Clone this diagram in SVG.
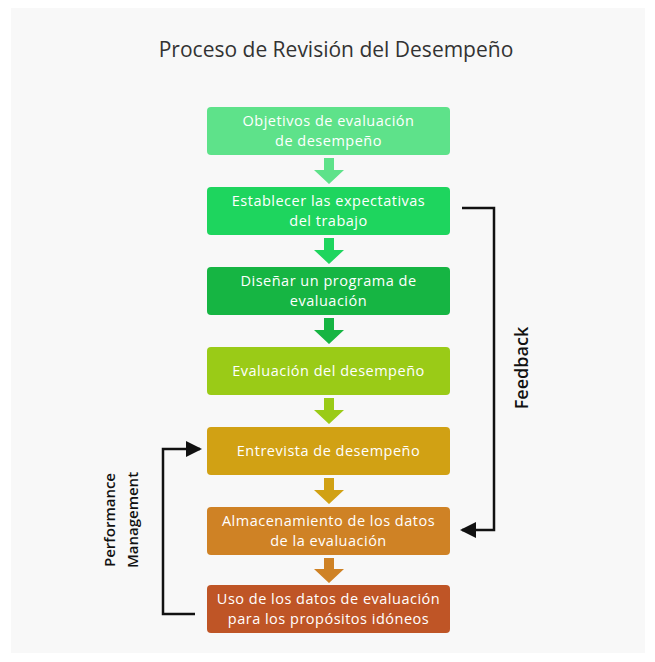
<svg xmlns="http://www.w3.org/2000/svg" width="655" height="662" viewBox="0 0 655 662">
<defs>
<style>
.box{stroke:none}
.lbl{font-family:"Open Sans","Noto Sans",sans-serif;font-size:14.5px;letter-spacing:0.5px;fill:#ffffff;text-anchor:middle;font-weight:500}
.side{font-family:"Open Sans","Noto Sans",sans-serif;fill:#111111;text-anchor:middle;font-weight:600}
.fb{font-size:18px}
.pm{font-size:15px}
.title{font-family:"Open Sans","Noto Sans",sans-serif;font-size:21px;fill:#333333;text-anchor:middle}
.conn{fill:none;stroke:#111111;stroke-width:2.5}
</style>
<marker id="ah2" markerWidth="16" markerHeight="16" refX="14" refY="8" orient="auto" markerUnits="userSpaceOnUse" viewBox="0 0 16 16">
<path d="M0,0 L16,8 L0,16 Z" fill="#111111"/>
</marker>
</defs>
<rect x="0" y="0" width="655" height="662" fill="#ffffff"/>
<rect x="11" y="8" width="634" height="645" fill="#f8f8f8"/>
<text class="title" x="336" y="57">Proceso de Revisión del Desempeño</text>

<g id="n1"><rect class="box" x="207" y="107" width="243" height="48" rx="4" fill="#5ee28a"/>
<text class="lbl" x="328.5" y="126">Objetivos de evaluación</text><text class="lbl" x="328.5" y="146">de desempeño</text></g>
<g id="n2"><rect class="box" x="207" y="187" width="243" height="48" rx="4" fill="#1ed55e"/>
<text class="lbl" x="328.5" y="206">Establecer las expectativas</text><text class="lbl" x="328.5" y="226">del trabajo</text></g>
<g id="n3"><rect class="box" x="207" y="267" width="243" height="48" rx="4" fill="#16b543"/>
<text class="lbl" x="328.5" y="286">Diseñar un programa de</text><text class="lbl" x="328.5" y="306">evaluación</text></g>
<g id="n4"><rect class="box" x="207" y="347" width="243" height="48" rx="4" fill="#9acb17"/>
<text class="lbl" x="328.5" y="376">Evaluación del desempeño</text></g>
<g id="n5"><rect class="box" x="207" y="427" width="243" height="48" rx="4" fill="#d1a114"/>
<text class="lbl" x="328.5" y="456">Entrevista de desempeño</text></g>
<g id="n6"><rect class="box" x="207" y="507" width="243" height="48" rx="4" fill="#cf8225"/>
<text class="lbl" x="328.5" y="526">Almacenamiento de los datos</text><text class="lbl" x="328.5" y="546">de la evaluación</text></g>
<g id="n7"><rect class="box" x="207" y="585" width="243" height="48" rx="4" fill="#bf5526"/>
<text class="lbl" x="328.5" y="604">Uso de los datos de evaluación</text><text class="lbl" x="328.5" y="624">para los propósitos idóneos</text></g>

<g id="connectors">
<path d="M324,158 h10 v12 h10 l-15,14 l-15,-14 h10 z" fill="#5ee28a"/>
<path d="M324,238 h10 v12 h10 l-15,14 l-15,-14 h10 z" fill="#1ed55e"/>
<path d="M324,318 h10 v12 h10 l-15,14 l-15,-14 h10 z" fill="#16b543"/>
<path d="M324,398 h10 v12 h10 l-15,14 l-15,-14 h10 z" fill="#9acb17"/>
<path d="M324,478 h10 v12 h10 l-15,14 l-15,-14 h10 z" fill="#d1a114"/>
<path d="M324,558 h10 v11 h10 l-15,14 l-15,-14 h10 z" fill="#cf8225"/>
<path class="conn" d="M462,208 H494 V530 H462" marker-end="url(#ah2)"/>
<path class="conn" d="M195,614 H163 V449 H200" marker-end="url(#ah2)"/>
</g>
<text class="side fb" transform="translate(528,368) rotate(-90)">Feedback</text>
<text class="side pm" transform="translate(115,520) rotate(-90)">Performance</text>
<text class="side pm" transform="translate(138,520) rotate(-90)">Management</text>
</svg>
